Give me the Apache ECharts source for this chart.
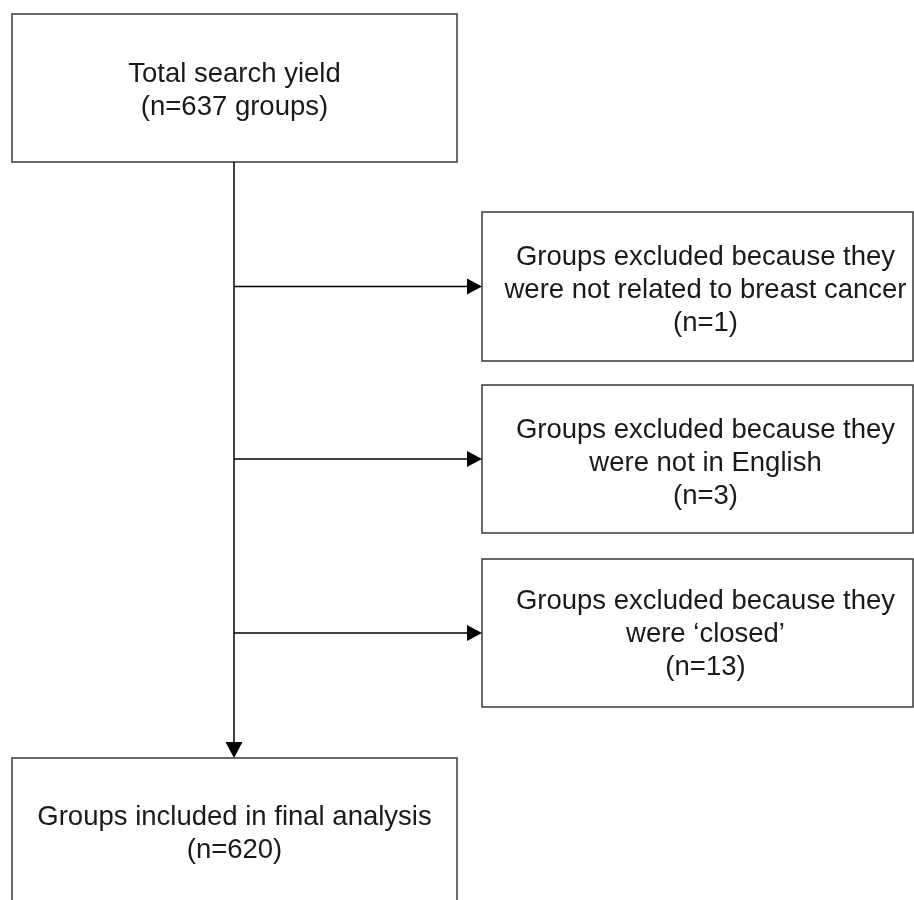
<!DOCTYPE html>
<html>
<head>
<meta charset="utf-8">
<script src="https://cdn.jsdelivr.net/npm/echarts@6/dist/echarts.min.js"></script>
<style>
html,body{margin:0;padding:0;background:#fff;}
#chart{width:914px;height:900px;}
</style>
</head>
<body>
<div id="chart"></div>
<script>
// ---- data ----
const stepTitles = [
  'Total search yield',
  'Groups excluded because they\nwere not related to breast cancer',
  'Groups excluded because they\nwere not in English',
  'Groups excluded because they\nwere \u2018closed\u2019',
  'Groups included in final analysis'
];
const stepCounts = [637, 1, 3, 13, 620];
const stepUnits = ['groups', '', '', '', ''];
// flow: source step -> excluded steps -> final step
const trunkFrom = 0;
const trunkTo = 4;
const branchTargets = [1, 2, 3];

// ---- layout (chart units, y grows downward) ----
const boxLayout = [
  [12, 14, 457, 162],
  [482, 212, 913, 361],
  [482, 385, 913, 533],
  [482, 559, 913, 707],
  [12, 758, 457, 906]
];
const textOffsetX = [0, 8, 8, 8, 0];
const textOffsetY = [3, 4, 4, 1, 2];
const trunkX = 234;

const chart = echarts.init(document.getElementById('chart'), null, {renderer: 'canvas'});

function boxText(i) {
  const unit = stepUnits[i] ? ' ' + stepUnits[i] : '';
  return stepTitles[i] + '\n(n=' + stepCounts[i] + unit + ')';
}

function arrowHead(tip, dir, len, half) {
  if (dir === 'right') {
    return [[tip[0], tip[1]], [tip[0] - len, tip[1] - half], [tip[0] - len, tip[1] + half]];
  }
  return [[tip[0], tip[1]], [tip[0] - half, tip[1] - len], [tip[0] + half, tip[1] - len]];
}

const option = {
  animation: false,
  backgroundColor: '#ffffff',
  grid: {left: 0, right: 0, top: 0, bottom: 0},
  xAxis: {type: 'value', min: 0, max: 914, show: false},
  yAxis: {type: 'value', min: 0, max: 900, inverse: true, show: false},
  series: [
    {
      type: 'custom',
      coordinateSystem: 'cartesian2d',
      clip: false,
      data: stepTitles.map((t, i) => [i]),
      renderItem: function (params, api) {
        const i = api.value(0);
        const b = boxLayout[i];
        const p0 = api.coord([b[0], b[1]]);
        const p1 = api.coord([b[2], b[3]]);
        const c = api.coord([(b[0] + b[2]) / 2 + textOffsetX[i], (b[1] + b[3]) / 2 + textOffsetY[i]]);
        return {
          type: 'group',
          children: [
            {
              type: 'rect',
              shape: {x: p0[0], y: p0[1], width: p1[0] - p0[0], height: p1[1] - p0[1]},
              style: {fill: '#ffffff', stroke: '#3a3a3a', lineWidth: 1.5}
            },
            {
              type: 'text',
              style: {
                x: c[0], y: c[1],
                text: boxText(i),
                align: 'center',
                verticalAlign: 'middle',
                font: '27.5px "Liberation Sans", Arial, sans-serif',
                lineHeight: 33,
                fill: '#1a1a1a'
              }
            }
          ]
        };
      }
    },
    {
      type: 'custom',
      coordinateSystem: 'cartesian2d',
      clip: false,
      data: [[0]],
      renderItem: function (params, api) {
        const children = [];
        const src = boxLayout[trunkFrom];
        const dst = boxLayout[trunkTo];
        const top = api.coord([trunkX, src[3]]);
        const bot = api.coord([trunkX, dst[1]]);
        children.push({
          type: 'line',
          shape: {x1: top[0], y1: top[1], x2: bot[0], y2: bot[1] - 10},
          style: {stroke: '#000', lineWidth: 1.5}
        });
        children.push({
          type: 'polygon',
          shape: {points: arrowHead(bot, 'down', 16, 8.5)},
          style: {fill: '#000'}
        });
        branchTargets.forEach(function (t) {
          const b = boxLayout[t];
          const y = (b[1] + b[3]) / 2;
          const a = api.coord([trunkX, y]);
          const e = api.coord([b[0], y]);
          children.push({
            type: 'line',
            shape: {x1: a[0], y1: a[1], x2: e[0] - 10, y2: e[1]},
            style: {stroke: '#000', lineWidth: 1.5}
          });
          children.push({
            type: 'polygon',
            shape: {points: arrowHead(e, 'right', 15, 8)},
            style: {fill: '#000'}
          });
        });
        return {type: 'group', children: children};
      }
    }
  ]
};
chart.setOption(option);
</script>
</body>
</html>
